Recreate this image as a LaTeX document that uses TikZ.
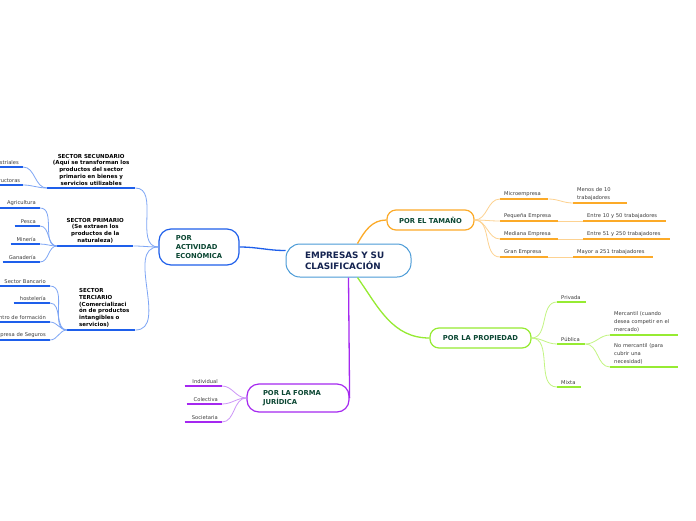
\documentclass[tikz,border=0pt]{standalone}
\usepackage{fontspec}
\setmainfont{DejaVu Sans}
\definecolor{brorange}{RGB}{252,170,40}
\definecolor{lightorange}{RGB}{253,210,145}
\definecolor{brblue}{RGB}{30,95,235}
\definecolor{lightblue}{RGB}{125,165,245}
\definecolor{brlime}{RGB}{150,235,50}
\definecolor{lightlime}{RGB}{195,245,130}
\definecolor{brpurple}{RGB}{165,40,240}
\definecolor{lightpurple}{RGB}{205,150,248}
\definecolor{coreblue}{RGB}{75,155,215}
\definecolor{deepgreen}{RGB}{10,70,50}
\definecolor{navy}{RGB}{20,35,80}
\definecolor{leafgray}{RGB}{60,60,60}
\usetikzlibrary{positioning}

\begin{document}
\begin{tikzpicture}[x=1pt, y=1pt,
    topic/.style={draw=#1, line width=1.2pt, fill=white, rounded corners=9pt,
                  font=\fontsize{6.8}{9}\selectfont\bfseries, text=deepgreen, align=left},
    leaf/.style={text width=#1, inner xsep=4pt, inner ysep=2.5pt,
                 font=\fontsize{5.2}{8}\selectfont, text=leafgray, align=left, anchor=south west},
    leafr/.style={leaf=#1, align=right, anchor=south east},
    sector/.style={text width=#1, inner xsep=4pt, inner ysep=2.5pt,
                   font=\fontsize{5.5}{6.8}\selectfont\bfseries, text=black, align=center, anchor=south west},
    ul/.style={line width=1.6pt, draw=#1},
    cn/.style={line width=0.8pt, draw=#1},
    mainln/.style={line width=1.3pt, draw=#1}
  ]
    \useasboundingbox (0,0) rectangle (696,-520);
    \fill[white] (0,0) rectangle (696,-520);

    % centre and main topics
    \node[draw=coreblue, line width=1pt, fill=white, rounded corners=14pt,
          minimum width=125pt, minimum height=33pt, text width=87pt, inner xsep=19pt,
          align=left, text=navy, font=\fontsize{8.8}{11}\selectfont\bfseries] (cen) at (348.5,-260.5)
      {EMPRESAS Y SU\\CLASIFICACIÓN};
    \node[topic=brorange, minimum width=87pt, minimum height=20pt] (tam) at (430.5,-220)
      {POR EL TAMAÑO};
    \node[topic=brblue, minimum width=80pt, minimum height=36pt, rounded corners=12pt] (act) at (199,-247)
      {POR\\ACTIVIDAD\\ECONÓMICA};
    \node[topic=brlime, minimum width=101pt, minimum height=20pt] (pro) at (480.5,-338)
      {POR LA PROPIEDAD};
    \node[topic=brpurple, minimum width=102pt, minimum height=28pt, rounded corners=12pt,
          text width=70pt, inner xsep=16pt] (jur) at (298,-398)
      {POR LA FORMA\\JURÍDICA};

    \draw[mainln=brorange] ([xshift=9pt]cen.north) to[out=60,in=180] (tam.west);
    \draw[mainln=brblue] ([yshift=10pt]cen.west) to[out=180,in=0] (act.east);
    \draw[mainln=brlime] ([xshift=9pt]cen.south) to[out=-55,in=180] (pro.west);
    \draw[mainln=brpurple] (cen.south) -- (jur.east);

    % por el tamaño
    \node[leaf=40pt] (mic) at (500,-199) {Microempresa};
    \node[leaf=46pt] (men) at (573,-203) {Menos de 10\\trabajadores};
    \node[leaf=50pt] (peq) at (500,-221) {Pequeña Empresa};
    \node[leaf=75pt] (e10) at (583,-221) {Entre 10 y 50 trabajadores};
    \node[leaf=50pt] (med) at (500,-239) {Mediana Empresa};
    \node[leaf=79pt] (e51) at (583,-239) {Entre 51 y 250 trabajadores};
    \node[leaf=40pt] (gra) at (500,-257) {Gran Empresa};
    \node[leaf=72pt] (may) at (573,-257) {Mayor a 251 trabajadores};
    \foreach \n in {mic,men,peq,e10,med,e51,gra,may}
      \draw[ul=brorange] (\n.south west) -- (\n.south east);
    \foreach \n in {mic,peq,med,gra}
      \draw[cn=lightorange] (tam.east) to[out=0,in=180] (\n.south west);
    \draw[cn=lightorange] (mic.south east) to[out=0,in=180] (men.south west);
    \draw[cn=lightorange] (peq.south east) -- (e10.south west);
    \draw[cn=lightorange] (med.south east) -- (e51.south west);
    \draw[cn=lightorange] (gra.south east) -- (may.south west);

    % por la propiedad
    \node[leaf=21pt] (pri) at (557,-302) {Privada};
    \node[leaf=20pt] (pub) at (557,-344) {Pública};
    \node[leaf=16pt] (mix) at (557,-387) {Mixta};
    \node[leaf=60pt] (mer) at (610,-335) {Mercantil (cuando\\desea competir en el\\mercado)};
    \node[leaf=60pt] (nom) at (610,-367) {No mercantil (para\\cubrir una\\necesidad)};
    \foreach \n in {pri,pub,mix,mer,nom}
      \draw[ul=brlime] (\n.south west) -- (\n.south east);
    \foreach \n in {pri,pub,mix}
      \draw[cn=lightlime] (pro.east) to[out=0,in=180] (\n.south west);
    \foreach \n in {mer,nom}
      \draw[cn=lightlime] (pub.south east) to[out=0,in=180] (\n.south west);

    % por la forma juridica
    \node[leafr=29pt] (ind) at (222,-386) {Individual};
    \node[leafr=27pt] (col) at (222,-404) {Colectiva};
    \node[leafr=29pt] (soc) at (222,-422) {Societaria};
    \foreach \n in {ind,col,soc} {
      \draw[ul=brpurple] (\n.south west) -- (\n.south east);
      \draw[cn=lightpurple] (jur.west) to[out=180,in=0] (\n.south east);
    }

    % por actividad economica
    \node[sector=80pt] (sec) at (47,-188)
      {SECTOR SECUNDARIO\\(Aquí se transforman los\\productos del sector\\primario en bienes y\\servicios utilizables};
    \node[sector=68pt] (prim) at (57,-246)
      {SECTOR PRIMARIO\\(Se extraen los\\productos de la\\naturaleza)};
    \node[sector=56pt, inner xsep=0pt, align=left] (ter) at (79,-330)
      {SECTOR\\TERCIARIO\\(Comercializaci\\ón de productos\\intangibles o\\servicios)};
    \draw[ul=brblue] (sec.south west) -- (sec.south east);
    \draw[ul=brblue] (prim.south west) -- (prim.south east);
    \draw[ul=brblue] ([xshift=-12pt]ter.south west) -- (ter.south east);
    \foreach \n in {sec,prim,ter}
      \draw[cn=lightblue] (act.west) to[out=180,in=0] (\n.south east);

    \node[leafr=35pt] (indu) at (23,-167) {Industriales};
    \node[leafr=35pt] (cons) at (23,-185) {Constructoras};
    \foreach \n in {indu,cons} {
      \draw[ul=brblue] (\n.south west) -- (\n.south east);
      \draw[cn=lightblue] (\n.south east) to[out=0,in=180] (sec.south west);
    }

    \node[leafr=32pt] (agr) at (40,-208) {Agricultura};
    \node[leafr=17pt] (pes) at (40,-226) {Pesca};
    \node[leafr=21pt] (mnr) at (40,-244) {Minería};
    \node[leafr=29pt] (gan) at (40,-262) {Ganadería};
    \foreach \n in {agr,pes,mnr,gan} {
      \draw[ul=brblue] (\n.south west) -- (\n.south east);
      \draw[cn=lightblue] (\n.south east) to[out=0,in=180] (prim.south west);
    }

    \node[leafr=46pt] (ban) at (50,-286) {Sector Bancario};
    \node[leafr=28pt] (hos) at (50,-303) {hostelería};
    \node[leafr=60pt] (cfo) at (50,-322) {Centro de formación};
    \node[leafr=60pt] (seg) at (50,-340) {Empresa de Seguros};
    \foreach \n in {ban,hos,cfo,seg} {
      \draw[ul=brblue] (\n.south west) -- (\n.south east);
      \draw[cn=lightblue] (\n.south east) to[out=0,in=180] ([xshift=-12pt]ter.south west);
    }
  \end{tikzpicture}
\end{document}
